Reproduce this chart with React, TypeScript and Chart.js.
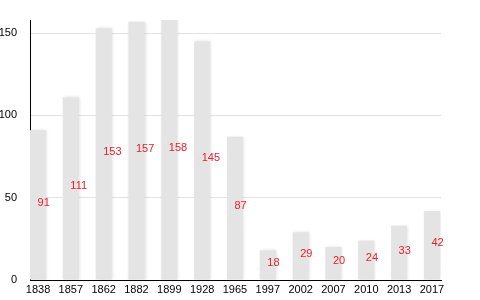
import React, { useEffect, useRef } from "react";
import { Chart, registerables } from "chart.js";

Chart.register(...registerables);

const years = ["1838", "1857", "1862", "1882", "1899", "1928", "1965", "1997", "2002", "2007", "2010", "2013", "2017"];
const population = [91, 111, 153, 157, 158, 145, 87, 18, 29, 20, 24, 33, 42];
const yTicks = [0, 50, 100, 150];

const FONT = "'Liberation Sans', Arial, sans-serif";

const labelPlugin = {
  id: "midLabels",
  afterDatasetsDraw(chart: any) {
    const ctx = chart.ctx;
    const meta = chart.getDatasetMeta(0);
    ctx.save();
    ctx.font = `11px ${FONT}`;
    ctx.fillStyle = "#e8202a";
    ctx.textAlign = "left";
    ctx.textBaseline = "alphabetic";
    meta.data.forEach((el: any, i: number) => {
      const mid = (el.y + el.base) / 2;
      ctx.fillText(String(population[i]), el.x - 0.5, mid + 1);
    });
    ctx.restore();
  },
};

const shadowPlugin = {
  id: "barShadow",
  beforeDatasetsDraw(chart: any) {
    const ctx = chart.ctx;
    ctx.save();
    ctx.shadowColor = "rgba(0,0,0,0.12)";
    ctx.shadowBlur = 3;
    ctx.shadowOffsetX = 1;
    ctx.shadowOffsetY = 0;
  },
  afterDatasetsDraw(chart: any) {
    chart.ctx.restore();
  },
};

export default function App() {
  const ref = useRef<HTMLCanvasElement>(null);
  useEffect(() => {
    if (!ref.current) return;
    const chart = new Chart(ref.current, {
      type: "bar",
      data: {
        datasets: [
          {
            data: population.map((v, i) => ({ x: i, y: v })),
            backgroundColor: "#e4e4e4",
            borderWidth: 0,
            barPercentage: 1,
            categoryPercentage: 0.49,
          },
        ],
      },
      options: {
        responsive: false,
        animation: false,
        layout: { padding: { left: 0, top: 20, right: 39, bottom: 0 } },
        plugins: { legend: { display: false }, tooltip: { enabled: false } },
        scales: {
          x: {
            type: "linear",
            offset: false,
            min: -0.244,
            max: 12.276,
            grid: { display: false, drawTicks: false, offset: false },
            border: { display: true, color: "#000", width: 1 },
            afterBuildTicks: (scale: any) => {
              scale.ticks = years.map((_, i) => ({ value: i }));
            },
            afterFit: (scale: any) => {
              scale.height = 20;
            },
            ticks: {
              autoSkip: false,
              maxRotation: 0,
              padding: 3,
              color: "#000",
              font: { family: FONT, size: 11 },
              callback: (v: any) => years[v] ?? "",
            },
          },
          y: {
            min: 0,
            max: Math.max(...population),
            afterBuildTicks: (scale: any) => {
              scale.ticks = yTicks.map((v) => ({ value: v }));
            },
            afterFit: (scale: any) => {
              scale.width = 30;
            },
            grid: { color: "#e3e3e3", drawTicks: false },
            border: { display: true, color: "#000", width: 1 },
            ticks: {
              padding: 13,
              color: "#000",
              font: { family: FONT, size: 11 },
            },
          },
        },
      },
      plugins: [shadowPlugin, labelPlugin],
    } as any);
    return () => chart.destroy();
  }, []);
  return (
    <div style={{ position: "fixed", left: 0, top: 0, width: 480, height: 300, background: "#fff" }}>
      <canvas ref={ref} width={480} height={300} />
    </div>
  );
}
